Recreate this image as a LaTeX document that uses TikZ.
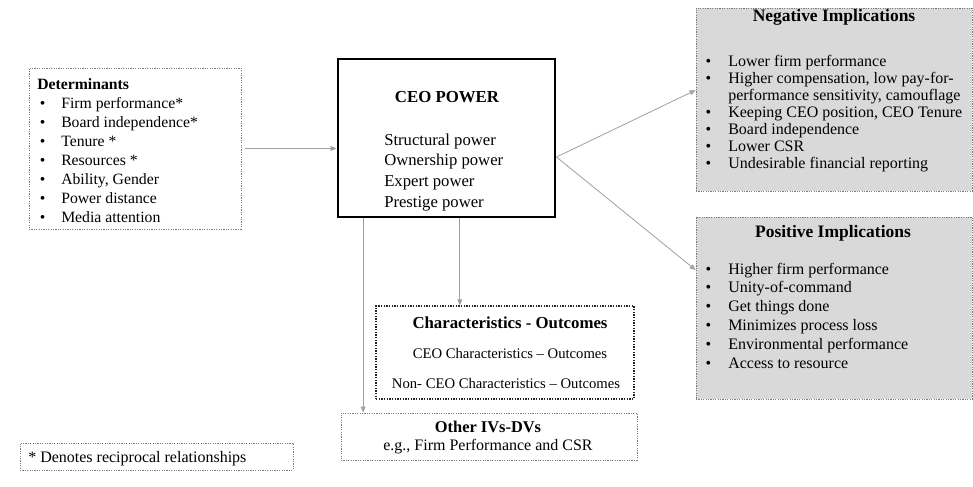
\documentclass[tikz,border=0pt]{standalone}
\usepackage{fontspec}
\setmainfont{Liberation Serif}
\usetikzlibrary{arrows.meta,fit}

\definecolor{boxgray}{RGB}{217,217,217}
\definecolor{linegray}{RGB}{160,160,160}
\definecolor{dotgray}{RGB}{125,125,125}

\begin{document}
\begin{tikzpicture}[
  x=0.75pt, y=-0.75pt,
  font=\fontsize{12}{14.1}\selectfont,
  box/.style={draw=dotgray, line width=0.6pt, dash pattern=on 0.9pt off 0.9pt, inner sep=0pt},
  shaded/.style={box, fill=boxgray},
  arr/.style={draw=linegray, line width=0.6pt, -{Triangle[length=4.5pt,width=3.6pt]}},
  txt/.style={inner sep=0pt, anchor=base west},
  head/.style={inner sep=0pt, anchor=base, font=\fontsize{12.6}{15}\selectfont\bfseries},
  bighead/.style={head, font=\fontsize{13.1}{16}\selectfont\bfseries},
  small/.style={inner sep=0pt, anchor=base, font=\fontsize{11}{13}\selectfont},
]
  \useasboundingbox (0,0) rectangle (973,486);

  % Boxes
  \node[box, fit={(29,68) (241,229)}] (det) {};
  \node[draw=black, line width=2.2pt, inner sep=0pt, fit={(338,59) (555,217)}] (ceo) {};
  \node[shaded, fit={(696,8) (972,191)}] (neg) {};
  \node[shaded, fit={(696,217) (972,399)}] (pos) {};
  \node[box, draw=black!85, line width=0.9pt, dash pattern=on 1pt off 1pt,
        fit={(376,306) (634,399)}] (chr) {};
  \node[box, fit={(341,413) (637,460)}] (oth) {};
  \node[box, fit={(20,443) (293,470)}] (note) {};

  % Determinants
  \node[txt, font=\fontsize{11.8}{14.35}\selectfont] (detlist) at (37,89)
    {\begin{tabular}[t]{@{}p{18pt}@{}l@{}}
    \multicolumn{2}{@{}l@{}}{\textbf{Determinants}}\\
    \hspace{2pt}\textbullet & Firm performance*\\
    \hspace{2pt}\textbullet & Board independence*\\
    \hspace{2pt}\textbullet & Tenure *\\
    \hspace{2pt}\textbullet & Resources *\\
    \hspace{2pt}\textbullet & Ability, Gender\\
    \hspace{2pt}\textbullet & Power distance\\
    \hspace{2pt}\textbullet & Media attention
  \end{tabular}};

  % CEO power
  \node[head] (ceotitle) at (447,102) {CEO POWER};
  \node[txt, font=\fontsize{12.5}{15.5}\selectfont] (ceolist) at (384,145)
    {\begin{tabular}[t]{@{}l@{}}
    Structural power\\ Ownership power\\ Expert power\\ Prestige power
  \end{tabular}};

  % Implications
  \node[bighead] (negtitle) at (834,21) {Negative Implications};
  \node[txt, font=\fontsize{12}{12.8}\selectfont] (neglist) at (704,66)
    {\begin{tabular}[t]{@{}p{18pt}@{}l@{}}
    \hspace{1pt}\textbullet & Lower firm performance\\
    \hspace{1pt}\textbullet & Higher compensation, low pay-for-\\
                            & performance sensitivity, camouflage\\
    \hspace{1pt}\textbullet & Keeping CEO position, CEO Tenure\\
    \hspace{1pt}\textbullet & Board independence\\
    \hspace{1pt}\textbullet & Lower CSR\\
    \hspace{1pt}\textbullet & Undesirable financial reporting
  \end{tabular}};

  \node[bighead] (postitle) at (833,237) {Positive Implications};
  \node[txt] (poslist) at (704,274)
    {\begin{tabular}[t]{@{}p{18pt}@{}l@{}}
    \hspace{1pt}\textbullet & Higher firm performance\\
    \hspace{1pt}\textbullet & Unity-of-command\\
    \hspace{1pt}\textbullet & Get things done\\
    \hspace{1pt}\textbullet & Minimizes process loss\\
    \hspace{1pt}\textbullet & Environmental performance\\
    \hspace{1pt}\textbullet & Access to resource
  \end{tabular}};

  % Characteristics and other IVs-DVs
  \node[head] (chrtitle) at (510,328) {Characteristics - Outcomes};
  \node[small] (chrceo) at (510,358) {CEO Characteristics -- Outcomes};
  \node[small] (chrnon) at (506,388) {Non- CEO Characteristics -- Outcomes};

  \node[head, font=\fontsize{12.3}{15}\selectfont\bfseries] (othtitle) at (488,432) {Other IVs-DVs};
  \node[inner sep=0pt, anchor=base] (othex) at (488,450) {e.g., Firm Performance and CSR};

  \node[txt] (notetext) at (28,462) {* Denotes reciprocal relationships};

  % Arrows
  \draw[arr] ([xshift=3pt]det.east) -- (det.east -| ceo.west);
  \draw[arr] ([yshift=-14.25pt]ceo.east) -- ([yshift=7pt]neg.west);
  \draw[arr] ([yshift=-14.25pt]ceo.east) -- ([yshift=28.5pt]pos.west);
  \draw[arr] ([xshift=10pt]ceo.south) coordinate (ceomid) -- (ceomid |- chr.north);
  \draw[arr] ([xshift=-62.5pt]ceo.south) coordinate (ceoleft) -- (ceoleft |- oth.north);

\end{tikzpicture}
\end{document}
